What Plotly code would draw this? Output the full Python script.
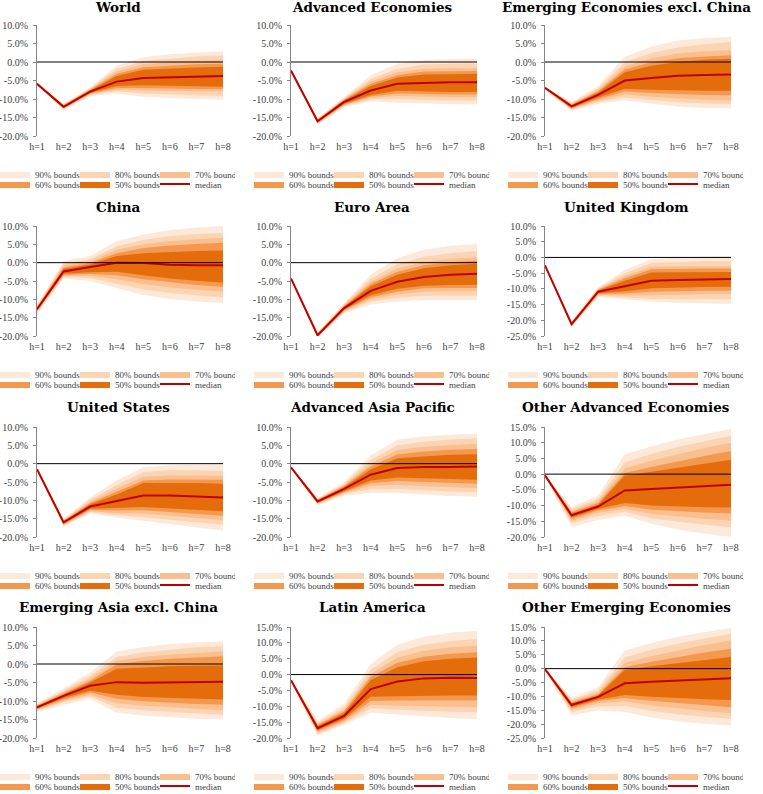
import plotly.graph_objects as go

W, H_PX = 763, 794

H_VALUES = [1, 2, 3, 4, 5, 6, 7, 8]
H_LABELS = ["h=1", "h=2", "h=3", "h=4", "h=5", "h=6", "h=7", "h=8"]

TITLES = [
    "World", "Advanced Economies", "Emerging Economies excl. China",
    "China", "Euro Area", "United Kingdom",
    "United States", "Advanced Asia Pacific", "Other Advanced Economies",
    "Emerging Asia excl. China", "Latin America", "Other Emerging Economies",
]
Y_RANGES = [
    (-20, 10), (-20, 10), (-20, 10),
    (-20, 10), (-20, 10), (-25, 10),
    (-20, 10), (-20, 10), (-20, 15),
    (-20, 10), (-20, 15), (-25, 15),
]
LEVEL_NAMES = ["90% bounds", "80% bounds", "70% bounds", "60% bounds", "50% bounds"]
BAND_COLORS = ["#FDE9D9", "#FBD4B4", "#F9BF8F", "#F5984F", "#E46C0A"]
MEDIAN_COLOR = "#C00000"

# ---- data: median and lower/upper bounds (90, 80, 70, 60, 50), in % ----
WORLD_MED = [-5.9, -12.1, -8.0, -5.3, -4.3, -4.1, -4.0, -3.8]
WORLD_LO = [
    [-6.2, -13.0, -9.2, -8.5, -9.4, -9.8, -10.0, -10.2],
    [-6.1, -12.8, -8.9, -7.9, -8.5, -8.8, -9.0, -9.1],
    [-6.05, -12.6, -8.7, -7.4, -7.7, -7.9, -8.0, -8.0],
    [-6.0, -12.5, -8.5, -7.0, -7.0, -7.2, -7.3, -7.3],
    [-5.95, -12.4, -8.3, -6.5, -6.3, -6.5, -6.6, -6.7],
]
WORLD_HI = [
    [-5.6, -11.3, -6.8, -1.0, 1.3, 2.1, 2.6, 2.9],
    [-5.7, -11.5, -7.1, -1.9, 0.3, 1.0, 1.5, 1.8],
    [-5.75, -11.6, -7.3, -2.6, -0.6, 0.0, 0.3, 0.5],
    [-5.8, -11.7, -7.5, -3.2, -1.4, -0.9, -0.6, -0.5],
    [-5.85, -11.8, -7.7, -3.8, -2.1, -1.7, -1.5, -1.3],
]

ADV_MED = [-2.3, -16.0, -10.8, -7.7, -5.9, -5.6, -5.5, -5.5]
ADV_LO = [
    [-2.6, -16.9, -12.2, -10.6, -11.0, -11.3, -11.4, -11.5],
    [-2.5, -16.7, -11.9, -10.1, -10.0, -10.3, -10.4, -10.4],
    [-2.45, -16.5, -11.7, -9.7, -9.2, -9.4, -9.5, -9.5],
    [-2.4, -16.4, -11.5, -9.3, -8.5, -8.7, -8.8, -8.8],
    [-2.35, -16.3, -11.3, -8.9, -7.8, -8.0, -8.1, -8.1],
]
ADV_HI = [
    [-2.0, -15.2, -9.5, -3.6, -0.5, 0.5, 0.8, 0.9],
    [-2.1, -15.4, -9.8, -4.6, -1.8, -0.7, -0.5, -0.4],
    [-2.15, -15.5, -10.0, -5.3, -2.8, -1.8, -1.6, -1.6],
    [-2.2, -15.6, -10.2, -5.9, -3.6, -2.6, -2.5, -2.4],
    [-2.25, -15.8, -10.4, -6.5, -4.2, -3.4, -3.3, -3.2],
]

EMX_MED = [-7.0, -12.0, -8.9, -5.0, -4.3, -3.7, -3.5, -3.4]
EMX_LO = [
    [-7.5, -13.2, -11.3, -10.4, -11.3, -12.0, -12.4, -12.6],
    [-7.4, -12.9, -10.8, -9.6, -10.3, -10.9, -11.2, -11.4],
    [-7.3, -12.7, -10.4, -8.8, -9.4, -9.9, -10.2, -10.4],
    [-7.2, -12.5, -10.0, -8.0, -8.4, -8.7, -8.9, -9.0],
    [-7.1, -12.3, -9.6, -7.2, -7.5, -7.7, -7.8, -7.8],
]
EMX_HI = [
    [-6.6, -10.8, -6.5, 1.4, 4.1, 5.8, 6.5, 6.8],
    [-6.7, -11.1, -7.1, -0.1, 2.4, 3.9, 4.8, 5.4],
    [-6.8, -11.3, -7.6, -1.2, 1.0, 2.3, 2.9, 3.2],
    [-6.85, -11.5, -7.9, -2.0, -0.1, 1.0, 1.5, 1.8],
    [-6.9, -11.7, -8.3, -2.8, -1.0, 0.0, 0.6, 0.9],
]

CHN_MED = [-12.7, -2.4, -1.2, 0.0, -0.1, -0.6, -0.7, -0.7]
CHN_LO = [
    [-13.9, -4.3, -5.0, -7.0, -8.8, -9.9, -10.6, -11.0],
    [-13.6, -3.9, -4.2, -5.7, -7.3, -8.3, -9.0, -9.5],
    [-13.4, -3.6, -3.6, -4.5, -5.8, -6.8, -7.4, -7.9],
    [-13.2, -3.3, -3.1, -3.4, -4.5, -5.4, -6.1, -6.6],
    [-13.0, -3.0, -2.6, -2.5, -3.4, -4.3, -4.9, -5.4],
]
CHN_HI = [
    [-11.5, 0.4, 1.8, 5.9, 7.7, 8.9, 9.6, 10.0],
    [-11.8, -0.3, 1.0, 4.5, 6.2, 7.2, 7.8, 8.1],
    [-12.0, -0.8, 0.4, 3.5, 5.0, 5.9, 6.4, 6.8],
    [-12.2, -1.3, -0.1, 2.6, 4.0, 4.7, 5.1, 5.4],
    [-12.4, -1.7, -0.5, 1.8, 2.6, 3.0, 3.2, 3.3],
]

EUR_MED = [-4.3, -19.8, -12.4, -7.7, -5.2, -3.9, -3.3, -3.0]
EUR_LO = [
    [-4.6, -20.4, -13.8, -11.4, -10.6, -10.2, -10.2, -10.2],
    [-4.5, -20.3, -13.5, -10.6, -9.6, -9.0, -9.0, -9.0],
    [-4.45, -20.2, -13.2, -10.0, -8.7, -7.9, -7.8, -7.8],
    [-4.4, -20.1, -13.0, -9.4, -7.9, -7.0, -6.9, -6.9],
    [-4.35, -20.0, -12.8, -8.9, -7.1, -6.3, -6.1, -6.0],
]
EUR_HI = [
    [-4.0, -19.0, -11.0, -3.2, 1.2, 3.5, 4.6, 5.1],
    [-4.1, -19.2, -11.3, -4.3, -0.4, 1.6, 2.6, 3.2],
    [-4.15, -19.3, -11.6, -5.2, -1.6, 0.2, 1.0, 1.5],
    [-4.2, -19.5, -11.8, -5.8, -2.5, -0.7, 0.1, 0.6],
    [-4.25, -19.6, -12.0, -6.4, -3.3, -1.5, -0.7, -0.3],
]

UK_MED = [-2.5, -21.2, -10.9, -9.1, -7.4, -7.2, -7.0, -6.9]
UK_LO = [
    [-2.8, -22.3, -12.6, -13.3, -14.0, -14.4, -14.6, -14.8],
    [-2.7, -22.0, -12.2, -12.7, -13.2, -13.3, -13.3, -13.3],
    [-2.65, -21.8, -11.9, -12.1, -12.0, -11.8, -11.7, -11.7],
    [-2.6, -21.6, -11.6, -11.5, -10.9, -10.7, -10.6, -10.6],
    [-2.55, -21.5, -11.4, -10.8, -9.8, -9.5, -9.4, -9.3],
]
UK_HI = [
    [-2.2, -20.3, -9.5, -4.0, -0.6, 0.0, 0.3, 0.4],
    [-2.3, -20.5, -9.8, -5.0, -1.8, -1.4, -1.2, -1.2],
    [-2.35, -20.7, -10.1, -5.9, -3.0, -2.8, -2.8, -2.8],
    [-2.4, -20.8, -10.3, -6.6, -3.8, -3.6, -3.5, -3.5],
    [-2.45, -21.0, -10.5, -7.4, -4.8, -4.7, -4.6, -4.6],
]

US_MED = [-1.5, -16.0, -11.7, -10.2, -8.7, -8.7, -8.9, -9.2]
US_LO = [
    [-1.8, -17.2, -13.5, -14.7, -15.6, -16.6, -17.4, -18.2],
    [-1.7, -16.9, -13.2, -14.1, -14.6, -15.4, -16.0, -16.6],
    [-1.65, -16.7, -12.9, -13.5, -13.6, -14.2, -14.8, -15.4],
    [-1.6, -16.5, -12.6, -12.8, -12.7, -13.2, -13.7, -14.2],
    [-1.55, -16.3, -12.3, -12.0, -11.8, -12.2, -12.6, -13.0],
]
US_HI = [
    [-1.2, -15.0, -9.2, -4.6, -1.0, -0.4, -0.3, -0.3],
    [-1.3, -15.3, -9.8, -5.8, -2.3, -1.8, -1.8, -1.9],
    [-1.35, -15.5, -10.3, -6.8, -3.6, -3.2, -3.2, -3.3],
    [-1.4, -15.6, -10.7, -7.6, -4.6, -4.3, -4.3, -4.4],
    [-1.45, -15.8, -11.1, -8.4, -5.3, -5.2, -5.3, -5.5],
]

AAP_MED = [-1.0, -10.3, -6.9, -3.0, -1.2, -0.9, -0.9, -0.8]
AAP_LO = [
    [-1.3, -11.4, -8.7, -8.0, -8.1, -8.5, -8.8, -9.0],
    [-1.2, -11.1, -8.3, -7.0, -6.9, -7.3, -7.6, -7.8],
    [-1.15, -10.9, -8.0, -6.1, -5.8, -6.1, -6.4, -6.7],
    [-1.1, -10.7, -7.7, -5.3, -4.7, -5.0, -5.3, -5.5],
    [-1.05, -10.6, -7.5, -4.6, -3.8, -4.0, -4.2, -4.4],
]
AAP_HI = [
    [-0.7, -9.3, -5.0, 2.2, 6.6, 7.4, 7.9, 8.1],
    [-0.8, -9.6, -5.5, 1.0, 5.0, 6.0, 6.6, 6.9],
    [-0.85, -9.8, -5.8, 0.0, 3.7, 4.6, 5.1, 5.4],
    [-0.9, -9.9, -6.1, -0.8, 2.5, 3.3, 3.8, 4.0],
    [-0.95, -10.1, -6.4, -1.6, 1.5, 2.0, 2.4, 2.6],
]

OAE_MED = [-0.4, -13.1, -10.3, -5.2, -4.7, -4.3, -3.9, -3.4]
OAE_LO = [
    [-1.0, -16.8, -14.6, -13.2, -15.8, -17.6, -19.0, -20.0],
    [-0.8, -15.6, -13.2, -12.0, -14.1, -15.2, -16.1, -16.9],
    [-0.7, -14.9, -12.3, -11.0, -12.7, -13.5, -14.2, -14.8],
    [-0.6, -14.3, -11.6, -10.1, -11.3, -11.8, -12.2, -12.5],
    [-0.5, -13.8, -11.0, -9.2, -10.0, -10.3, -10.5, -10.6],
]
OAE_HI = [
    [0.0, -10.5, -6.8, 6.3, 8.8, 11.0, 12.8, 14.4],
    [-0.1, -11.2, -7.8, 3.8, 6.4, 8.6, 10.5, 12.2],
    [-0.2, -11.7, -8.6, 1.8, 4.3, 6.4, 8.3, 10.0],
    [-0.25, -12.1, -9.2, 0.4, 2.3, 4.1, 5.8, 7.4],
    [-0.3, -12.5, -9.7, -0.5, 0.8, 2.0, 3.2, 4.6],
]

EAX_MED = [-11.7, -8.6, -5.9, -4.9, -5.1, -5.0, -4.9, -4.8]
EAX_LO = [
    [-12.9, -11.0, -9.4, -13.2, -13.9, -14.4, -14.8, -15.0],
    [-12.6, -10.4, -8.8, -11.8, -12.5, -13.0, -13.4, -13.7],
    [-12.4, -10.0, -8.3, -10.6, -11.3, -11.8, -12.1, -12.4],
    [-12.2, -9.6, -7.7, -9.4, -10.1, -10.5, -10.8, -11.0],
    [-12.0, -9.2, -7.2, -8.3, -8.9, -9.2, -9.4, -9.6],
]
EAX_HI = [
    [-10.6, -6.6, -2.3, 3.4, 4.6, 5.4, 5.9, 6.1],
    [-10.9, -7.2, -3.2, 1.9, 3.1, 3.9, 4.5, 4.8],
    [-11.1, -7.6, -3.9, 0.9, 1.9, 2.6, 3.1, 3.4],
    [-11.3, -7.9, -4.5, -0.1, 0.8, 1.4, 1.8, 2.1],
    [-11.5, -8.2, -5.0, -1.3, -0.9, -0.6, -0.5, -0.4],
]

LAT_MED = [-1.8, -16.9, -13.0, -4.6, -2.2, -1.2, -1.0, -1.1]
LAT_LO = [
    [-2.4, -19.3, -15.8, -12.0, -12.6, -13.2, -13.7, -14.0],
    [-2.2, -18.7, -15.3, -10.7, -11.1, -11.5, -11.7, -11.9],
    [-2.1, -18.3, -14.9, -9.5, -9.8, -10.0, -10.2, -10.3],
    [-2.0, -17.9, -14.4, -8.3, -8.2, -8.2, -8.2, -8.2],
    [-1.9, -17.5, -13.9, -7.0, -6.8, -6.6, -6.6, -6.6],
]
LAT_HI = [
    [-1.4, -14.6, -9.3, 3.3, 9.4, 11.9, 13.2, 13.8],
    [-1.5, -15.2, -10.3, 1.5, 7.0, 9.4, 10.6, 11.2],
    [-1.6, -15.6, -11.0, 0.2, 5.3, 7.5, 8.6, 9.1],
    [-1.65, -15.9, -11.6, -0.8, 3.7, 5.6, 6.6, 7.0],
    [-1.7, -16.3, -12.1, -1.8, 2.3, 4.2, 5.0, 5.4],
]

OEE_MED = [-0.2, -13.1, -10.2, -5.3, -4.7, -4.3, -3.9, -3.5]
OEE_LO = [
    [-0.8, -16.8, -15.1, -15.6, -17.6, -19.0, -19.9, -20.5],
    [-0.6, -15.6, -13.6, -13.5, -15.2, -16.4, -17.3, -18.1],
    [-0.5, -14.9, -12.5, -11.8, -13.3, -14.4, -15.3, -16.1],
    [-0.4, -14.3, -11.7, -10.6, -11.6, -12.4, -13.2, -13.9],
    [-0.3, -13.8, -11.1, -9.5, -10.1, -10.6, -11.0, -11.3],
]
OEE_HI = [
    [0.2, -10.5, -6.7, 6.5, 9.2, 11.5, 13.2, 14.6],
    [0.1, -11.2, -7.8, 4.0, 6.8, 9.0, 10.9, 12.6],
    [0.0, -11.7, -8.6, 2.0, 4.5, 6.6, 8.5, 10.2],
    [-0.05, -12.1, -9.2, 0.5, 2.5, 4.2, 5.8, 7.2],
    [-0.1, -12.5, -9.7, -0.5, 0.9, 2.0, 3.1, 4.2],
]

PANEL_DATA = [
    (WORLD_MED, WORLD_LO, WORLD_HI), (ADV_MED, ADV_LO, ADV_HI), (EMX_MED, EMX_LO, EMX_HI),
    (CHN_MED, CHN_LO, CHN_HI), (EUR_MED, EUR_LO, EUR_HI), (UK_MED, UK_LO, UK_HI),
    (US_MED, US_LO, US_HI), (AAP_MED, AAP_LO, AAP_HI), (OAE_MED, OAE_LO, OAE_HI),
    (EAX_MED, EAX_LO, EAX_HI), (LAT_MED, LAT_LO, LAT_HI), (OEE_MED, OEE_LO, OEE_HI),
]

# ---- layout geometry (pixels) ----
COL_LEFT = [0, 254, 508]
PLOT_X = [(37, 223), (291, 477), (545, 731)]
PLOT_Y = [(25, 136), (226, 336), (427, 537), (627, 738)]
TITLE_Y = [7, 207, 407, 607]
LEGEND_Y = [(174, 184), (374, 384), (575, 585), (776, 786)]

TICK_FONT = dict(family="Liberation Serif", size=10, color="#404040")
AXIS_GREY = "#868686"


def px_x(v):
    return v / W


def px_y(v):
    return 1 - v / H_PX


fig = go.Figure()
layout = dict(
    width=W, height=H_PX,
    margin=dict(l=0, r=0, t=0, b=0, pad=0, autoexpand=False),
    paper_bgcolor="white", plot_bgcolor="white", showlegend=True,
)
annotations = []
shapes = []

for p, (med, lo, hi) in enumerate(PANEL_DATA):
    r, c = divmod(p, 3)
    xa = "x" if p == 0 else f"x{p + 1}"
    ya = "y" if p == 0 else f"y{p + 1}"
    leg_a = "legend" if p == 0 else f"legend{2 * p + 1}"
    leg_b = f"legend{2 * p + 2}"

    for k in range(5):
        leg = leg_a if k < 3 else leg_b
        fig.add_trace(go.Scatter(
            x=H_VALUES, y=lo[k], xaxis=xa, yaxis=ya, mode="lines",
            line=dict(width=0, color=BAND_COLORS[k]), showlegend=False,
            legend=leg, hoverinfo="skip",
        ))
        fig.add_trace(go.Scatter(
            x=H_VALUES, y=hi[k], xaxis=xa, yaxis=ya, mode="lines",
            line=dict(width=0, color=BAND_COLORS[k]), fill="tonexty",
            fillcolor=BAND_COLORS[k], name=LEVEL_NAMES[k], legend=leg,
            showlegend=True,
        ))
    fig.add_trace(go.Scatter(
        x=H_VALUES, y=med, xaxis=xa, yaxis=ya, mode="lines",
        line=dict(width=2, color=MEDIAN_COLOR), name="median", legend=leg_b,
    ))

    x0, x1 = PLOT_X[c]
    y0, y1 = PLOT_Y[r]
    ylo, yhi = Y_RANGES[p]
    yticks = list(range(ylo, yhi + 1, 5))
    xkey = "xaxis" if p == 0 else f"xaxis{p + 1}"
    ykey = "yaxis" if p == 0 else f"yaxis{p + 1}"
    layout[xkey] = dict(
        domain=[px_x(x0), px_x(x1)], range=[1, 8], anchor=ya,
        tickvals=H_VALUES, ticktext=H_LABELS, showline=False, showgrid=False,
        zeroline=False, ticks="outside", ticklen=1, tickcolor="rgba(0,0,0,0)",
        tickfont=TICK_FONT,
    )
    layout[ykey] = dict(
        domain=[px_y(y1), px_y(y0)], range=[ylo, yhi], anchor=xa,
        tickvals=yticks, ticktext=[f"{v:.1f}%" for v in yticks],
        showline=True, linecolor=AXIS_GREY, linewidth=1, ticks="outside",
        ticklen=3, tickcolor=AXIS_GREY, showgrid=False, zeroline=False,
        tickfont=TICK_FONT, ticklabelstandoff=3,
    )
    shapes.append(dict(
        type="line", xref=f"{xa} domain", yref=ya, x0=0, x1=1, y0=0, y1=0,
        line=dict(color="#000000", width=1), layer="above",
    ))
    annotations.append(dict(
        text=f"<b>{TITLES[p]}</b>", xref="paper", yref="paper",
        x=px_x(COL_LEFT[c] + 118), y=px_y(TITLE_Y[r]), xanchor="center",
        yanchor="middle", showarrow=False,
        font=dict(family="DejaVu Serif", size=13.5, color="#000000"),
    ))
    for leg, ly in ((leg_a, LEGEND_Y[r][0]), (leg_b, LEGEND_Y[r][1])):
        layout[leg] = dict(
            orientation="h", x=px_x(COL_LEFT[c] - 5), y=px_y(ly),
            xanchor="left", yanchor="middle", bgcolor="rgba(0,0,0,0)",
            font=dict(family="Liberation Serif", size=9, color="#404040"),
            itemwidth=30, entrywidth=35, tracegroupgap=0, traceorder="normal",
        )

layout["annotations"] = annotations
layout["shapes"] = shapes
fig.update_layout(**layout)
fig.write_html(
    "out.html",
    config={"displayModeBar": False},
    post_script="document.body.style.margin='0';document.body.style.overflow='hidden';",
)
